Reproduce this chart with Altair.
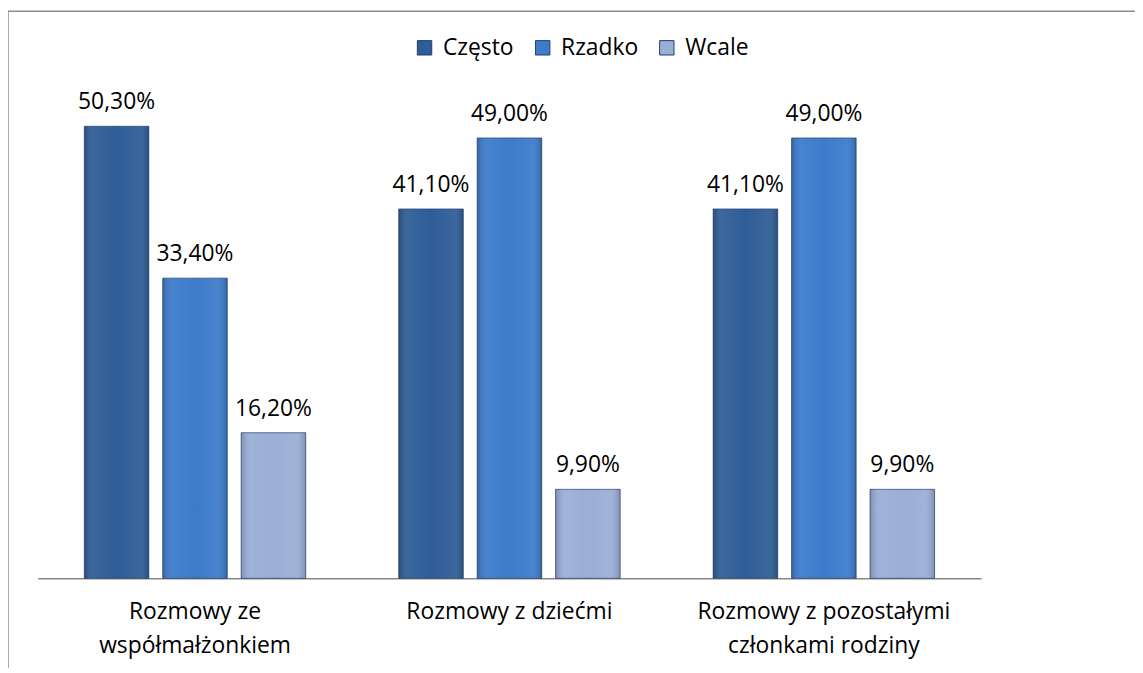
import altair as alt
import pandas as pd

categories = ["Rozmowy ze współmałżonkiem", "Rozmowy z dziećmi", "Rozmowy z pozostałymi członkami rodziny"]
series = ["Często", "Rzadko", "Wcale"]
czesto = [50.3, 41.1, 41.1]
rzadko = [33.4, 49.0, 49.0]
wcale = [16.2, 9.9, 9.9]
colors = ["#2F5D97", "#3D7BCB", "#9AAED6"]

rows = []
for s, vals in zip(series, [czesto, rzadko, wcale]):
    for c, v in zip(categories, vals):
        rows.append({"cat": c, "series": s, "value": v,
                     "label": f"{v:.2f}".replace(".", ",") + "%"})
df = pd.DataFrame(rows)

FONT = "Open Sans"
FS = 23

label_expr = (
    "datum.label == 'Rozmowy ze współmałżonkiem' ? ['Rozmowy ze', 'współmałżonkiem'] : "
    "datum.label == 'Rozmowy z pozostałymi członkami rodziny' ? ['Rozmowy z pozostałymi', 'członkami rodziny'] : "
    "datum.label"
)

x = alt.X("cat:N", sort=categories, title=None,
          scale=alt.Scale(paddingInner=0.2516, paddingOuter=0.1258),
          axis=alt.Axis(labelAngle=0, labelExpr=label_expr, ticks=False,
                        domainColor="#868686", domainWidth=1.5,
                        labelFont=FONT, labelFontSize=FS, labelColor="#000000",
                        labelLimit=500,
                        labelPadding=22, labelLineHeight=35, labelBaseline="top"))
xo = alt.XOffset("series:N", sort=series,
                 scale=alt.Scale(paddingInner=0.177, paddingOuter=0.0885))
y = alt.Y("value:Q", scale=alt.Scale(domain=[0, 60]), axis=None)

base = alt.Chart(df)

bars = base.mark_bar(stroke="#22406A", strokeWidth=1, strokeOpacity=0.7).encode(
    x=x, xOffset=xo, y=y,
    color=alt.Color("series:N", sort=series,
                    scale=alt.Scale(domain=series, range=colors),
                    legend=alt.Legend(title=None, orient="none", direction="horizontal",
                                      legendX=378, legendY=-3,
                                      symbolType="square", symbolSize=210,
                                      symbolStrokeColor="#22406A", symbolStrokeWidth=1,
                                      labelFont=FONT, labelFontSize=FS, labelColor="#000000",
                                      labelOffset=7, columnPadding=17)),
)

shade = base.mark_bar(
    color=alt.Gradient(
        gradient="linear", x1=0, x2=1, y1=0, y2=0,
        stops=[alt.GradientStop(color="rgba(0,0,0,0.18)", offset=0),
               alt.GradientStop(color="rgba(255,255,255,0.06)", offset=0.15),
               alt.GradientStop(color="rgba(255,255,255,0.0)", offset=0.5),
               alt.GradientStop(color="rgba(255,255,255,0.06)", offset=0.85),
               alt.GradientStop(color="rgba(0,0,0,0.18)", offset=1)])
).encode(x=x, xOffset=xo, y=y)

texts = base.mark_text(font=FONT, fontSize=FS, color="#000000",
                       baseline="alphabetic", dy=-17).encode(
    x=x, xOffset=xo, y=y, text="label:N",
)

border_top = alt.Chart(pd.DataFrame({"a": [0]})).mark_rule(color="#8C8C8C", strokeWidth=1.5).encode(
    x=alt.value(-30), x2=alt.value(1110), y=alt.value(-28))
border_left = alt.Chart(pd.DataFrame({"a": [0]})).mark_rule(color="#8C8C8C", strokeWidth=1.5).encode(
    x=alt.value(-30), y=alt.value(-28), y2=alt.value(640))

chart = alt.layer(border_top, border_left, bars, shade, texts).properties(
    width=950, height=543,
    autosize=alt.AutoSizeParams(type="none"),
    padding={"left": 30, "top": 29, "right": 155, "bottom": 88},
    background="#FFFFFF",
).configure_view(stroke=None)

chart.save("out.html", embed_options={"renderer": "svg", "actions": False})
